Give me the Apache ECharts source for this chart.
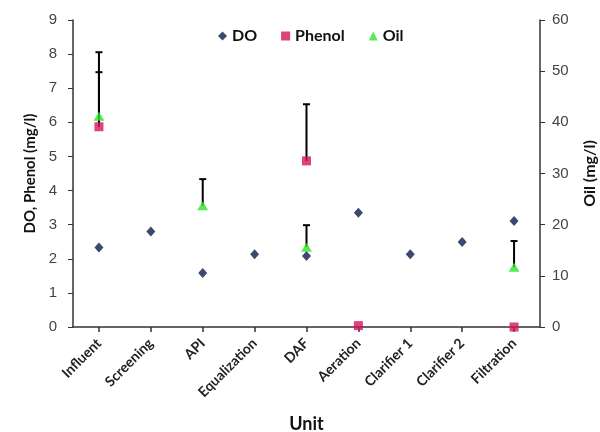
<!DOCTYPE html>
<html>
<head>
<meta charset="utf-8">
<script src="https://cdn.jsdelivr.net/npm/echarts@6/dist/echarts.min.js"></script>
<style>html,body{margin:0;padding:0;background:#fff}#c{width:600px;height:432px}</style>
</head>
<body>
<div id="c"></div>
<script>
const categories = ['Influent','Screening','API','Equalization','DAF','Aeration','Clarifier 1','Clarifier 2','Filtration'];
const doValues = [2.33, 2.80, 1.58, 2.13, 2.08, 3.35, 2.13, 2.49, 3.11];
const phenolValues = [5.87, null, null, null, 4.87, 0.04, null, null, 0.0];
const oilValues = [41.2, null, 23.7, null, 15.6, null, null, null, 11.7];
const phenolErr = [1.6, null, null, null, 1.66, null, null, null, null];
const oilErr = [12.5, null, 5.2, null, 4.3, null, null, null, 5.1];
const leftTicks = [0, 9, 1];
const rightTicks = [0, 60, 10];

const toScatter = arr => arr.map(v => v == null ? '-' : v);
const toErr = (vals, errs) => vals.map((v, i) => (v != null && errs[i] != null) ? [i, v, v + errs[i]] : null).filter(d => d);

function errRender(params, api) {
  const x = api.value(0);
  const p0 = api.coord([x, api.value(1)]);
  const p1 = api.coord([x, api.value(2)]);
  const w = 3.5;
  const st = { stroke: '#000', lineWidth: 2 };
  return { type: 'group', children: [
    { type: 'line', shape: { x1: p0[0], y1: p0[1], x2: p1[0], y2: p1[1] }, style: st },
    { type: 'line', shape: { x1: p1[0] - w, y1: p1[1], x2: p1[0] + w, y2: p1[1] }, style: st }
  ]};
}

const chart = echarts.init(document.getElementById('c'));
const axisFont = { fontFamily: 'Liberation Sans', fontSize: 15, color: '#444' };
const nameFont = { fontFamily: 'Lato', fontWeight: 'bold', fontSize: 15, color: '#111' };
chart.setOption({
  animation: false,
  grid: { left: 73, right: 60, top: 20, bottom: 105, containLabel: false, outerBoundsMode: 'none' },
  legend: {
    data: [{ name: 'DO', icon: 'diamond' }, { name: 'Phenol', icon: 'rect' }, { name: 'Oil', icon: 'triangle' }],
    top: 23, left: 213,
    itemWidth: 9, itemHeight: 9, itemGap: 24,
    textStyle: { fontFamily: 'Lato', fontWeight: 'bold', fontSize: 16, color: '#111' }
  },
  xAxis: {
    type: 'category', data: categories, boundaryGap: true,
    name: 'Unit', nameLocation: 'middle', nameGap: 88,
    nameTextStyle: Object.assign({}, nameFont, { fontSize: 18 }),
    axisLine: { lineStyle: { color: '#333', width: 1.5 } },
    axisTick: { show: true, alignWithLabel: true, length: 5, lineStyle: { color: '#333', width: 1.5 } },
    axisLabel: { rotate: 45, fontFamily: 'Lato', fontWeight: 'bold', fontSize: 14, color: '#222', margin: 14 },
    splitLine: { show: false }
  },
  yAxis: [{
    type: 'value', min: leftTicks[0], max: leftTicks[1], interval: leftTicks[2],
    name: 'DO, Phenol (mg/l)', nameLocation: 'middle', nameGap: 35, nameRotate: 90,
    nameTextStyle: nameFont,
    axisLine: { show: true, lineStyle: { color: '#333', width: 1.5 } },
    axisTick: { show: true, length: 5, lineStyle: { color: '#333' } },
    axisLabel: Object.assign({ margin: 16 }, axisFont),
    splitLine: { show: false }
  }, {
    type: 'value', min: rightTicks[0], max: rightTicks[1], interval: rightTicks[2], position: 'right',
    name: 'Oil (mg/l)', nameLocation: 'middle', nameGap: 42, nameRotate: 90,
    nameTextStyle: Object.assign({}, nameFont, { fontSize: 16 }),
    axisLine: { show: true, lineStyle: { color: '#333', width: 1.5 } },
    axisTick: { show: true, length: 5, lineStyle: { color: '#333' } },
    axisLabel: Object.assign({ margin: 12 }, axisFont),
    splitLine: { show: false }
  }],
  series: [
    { type: 'custom', name: 'PhenolErr', yAxisIndex: 0, renderItem: errRender, data: toErr(phenolValues, phenolErr), encode: { x: 0, y: [1, 2] }, z: 1 },
    { type: 'custom', name: 'OilErr', yAxisIndex: 1, renderItem: errRender, data: toErr(oilValues, oilErr), encode: { x: 0, y: [1, 2] }, z: 1 },
    { type: 'scatter', name: 'DO', yAxisIndex: 0, data: toScatter(doValues), symbol: 'diamond', symbolSize: [9, 10], itemStyle: { color: '#0b1a48' }, z: 3 },
    { type: 'scatter', name: 'Phenol', yAxisIndex: 0, data: toScatter(phenolValues), symbol: 'rect', symbolSize: 9, itemStyle: { color: '#d5145c' }, z: 3 },
    { type: 'scatter', name: 'Oil', yAxisIndex: 1, data: toScatter(oilValues), symbol: 'triangle', symbolSize: [11, 9], itemStyle: { color: '#2ee52a' }, z: 4 }
  ]
});
</script>
</body>
</html>
